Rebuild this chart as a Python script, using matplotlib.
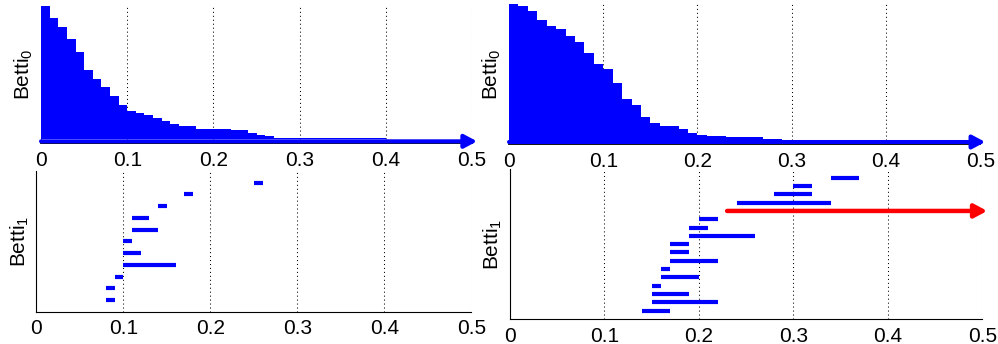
import matplotlib.pyplot as plt
import matplotlib.transforms as mtransforms
import numpy as np

plt.rcParams['font.family'] = ['Liberation Sans', 'DejaVu Sans']
plt.rcParams['mathtext.fontset'] = 'custom'
plt.rcParams['mathtext.rm'] = 'Liberation Sans'

xticks = [0, 0.1, 0.2, 0.3, 0.4, 0.5]
xtick_labels = ['0', '0.1', '0.2', '0.3', '0.4', '0.5']

# Betti_0 barcodes: every bar is born at 0, listed by death value and number of bars
b0_left_death = [0.01, 0.02, 0.03, 0.04, 0.05, 0.06, 0.07, 0.08, 0.09, 0.10, 0.11, 0.12,
                 0.13, 0.14, 0.15, 0.16, 0.18, 0.22, 0.24, 0.25, 0.26, 0.27, 0.40]
b0_left_count = [12, 9, 12, 13, 18, 10, 8, 9, 9, 6, 2, 2, 3, 3, 3, 2, 3, 1, 3, 2, 1, 2, 1]

b0_right_death = [0.01, 0.02, 0.03, 0.04, 0.05, 0.06, 0.07, 0.08, 0.09, 0.10, 0.11, 0.12,
                  0.13, 0.14, 0.15, 0.16, 0.18, 0.19, 0.20, 0.21, 0.23, 0.27, 0.29]
b0_right_count = [2, 5, 9, 6, 3, 7, 6, 11, 11, 5, 14, 16, 6, 12, 6, 3, 3, 4, 2, 1, 1, 2, 1]

# Betti_1 barcodes (bottom to top), np.inf = persists to the end
b1_left_birth = [0.08, 0.08, 0.09, 0.10, 0.10, 0.10, 0.11, 0.11, 0.14, 0.17, 0.25]
b1_left_death = [0.09, 0.09, 0.10, 0.16, 0.12, 0.11, 0.14, 0.13, 0.15, 0.18, 0.26]

b1_right_birth = [0.14, 0.15, 0.15, 0.15, 0.16, 0.16, 0.17, 0.17, 0.17, 0.19, 0.19, 0.20,
                  0.23, 0.24, 0.28, 0.30, 0.34]
b1_right_death = [0.17, 0.22, 0.19, 0.16, 0.20, 0.17, 0.22, 0.19, 0.19, 0.26, 0.21, 0.22,
                  np.inf, 0.34, 0.32, 0.32, 0.37]

INF_H = 4  # thickness (in bar units) of the infinite Betti_0 bar
XMAX = 0.5

fig = plt.figure(figsize=(9.98, 3.44), dpi=100)
ax_tl = fig.add_axes([0.0411, 0.5834, 0.4319, 0.400])
ax_tr = fig.add_axes([0.5100, 0.5814, 0.4722, 0.407])
ax_bl = fig.add_axes([0.0364, 0.0939, 0.4359, 0.409])
ax_br = fig.add_axes([0.5108, 0.0727, 0.4734, 0.4349])


def arrow(ax, x0, y, color, lw):
    # tip sits a few pixels past the right edge, as in the original
    tip = mtransforms.offset_copy(ax.transData, fig=fig, x=5, y=0, units='dots')
    ax.annotate('', xy=(XMAX, y), xycoords=tip, xytext=(x0, y), textcoords='data',
                annotation_clip=False,
                arrowprops=dict(arrowstyle='-|>,head_length=0.75,head_width=0.4',
                                color=color, lw=lw, shrinkA=0, shrinkB=0))


def style(ax, top):
    ax.set_xlim(0, XMAX)
    ax.set_xticks(xticks)
    ax.set_xticklabels(xtick_labels)
    ax.set_yticks([])
    ax.tick_params(axis='x', length=0, pad=5.5, labelsize=15)
    ax.grid(axis='x', color='black', linestyle=(0, (1, 2.8)), linewidth=0.75)
    ax.set_axisbelow(True)
    ax.spines['top'].set_visible(False)
    ax.spines['right'].set_visible(False)
    if top:
        ax.spines['left'].set_visible(False)
        ax.spines['bottom'].set_linewidth(1.3)


def betti0(ax, deaths, counts):
    d = np.sort(np.repeat(deaths, counts))[::-1]
    y = INF_H + np.arange(len(d))
    ax.barh(y, d, height=1.0, left=0, align='edge', color='blue',
            edgecolor='none', antialiased=False)
    ax.set_ylim(0, INF_H + len(d))
    arrow(ax, 0, INF_H / 2, 'blue', 2.9)
    style(ax, True)
    ax.set_ylabel(r'Betti$_{\mathregular{0}}$', fontsize=15, labelpad=4)


def betti1(ax, births, deaths):
    n = len(births)
    for i, (b, d) in enumerate(zip(births, deaths)):
        if np.isinf(d):
            arrow(ax, b, i + 1, 'red', 3.2)
        else:
            ax.hlines(i + 1, b, d, color='blue', linewidth=3, capstyle='butt')
    ax.set_ylim(0, n + 1)
    style(ax, False)
    ax.set_ylabel(r'Betti$_{\mathregular{1}}$', fontsize=15, labelpad=4)


betti0(ax_tl, b0_left_death, b0_left_count)
betti0(ax_tr, b0_right_death, b0_right_count)
betti1(ax_bl, b1_left_birth, b1_left_death)
betti1(ax_br, b1_right_birth, b1_right_death)

fig.savefig('out.png', dpi=100)
